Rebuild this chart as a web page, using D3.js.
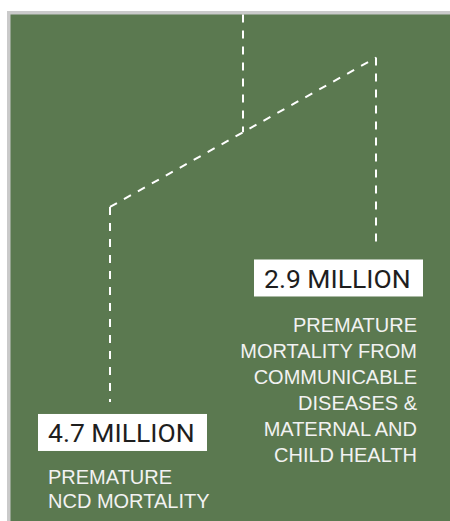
<!DOCTYPE html>
<html>
<head>
<meta charset="utf-8">
<script src="https://cdn.jsdelivr.net/npm/d3@7"></script>
<style>
  body { margin: 0; background: #fff; }
  svg text { font-family: Roboto, "Liberation Sans", sans-serif; }
  svg text.desc { font-family: "Liberation Sans", Arial, sans-serif; }
</style>
</head>
<body>
<div id="chart"></div>
<script>
const categories = ["ncd", "communicable"]
const values = [4.7, 2.9]
const valueLabels = ["4.7 MILLION", "2.9 MILLION"]
const descriptions = [
    ["PREMATURE", "NCD MORTALITY"],
    ["PREMATURE", "MORTALITY FROM", "COMMUNICABLE", "DISEASES &", "MATERNAL AND", "CHILD HEALTH"]
]
// branch height of each split (0 = top of the panel, 1 = bottom)
const branchLevels = [0.38, 0.085]
const stemLevels = [0.765, 0.46]

drawSplit("#chart")

function drawSplit(id){
    const canvas = createCanvas()
    const svg = d3.select(id).append("svg")
        .attr("width", canvas.width).attr("height", canvas.height)

    addPanel(svg, canvas)
    const sc = addScales(canvas)
    addLines(svg, sc)
    addLabels(svg, sc)
}

function createCanvas(){
    return { width: 450, height: 521, panel: { left: 7, top: 11, border: 3.5 } }
}

function addPanel(svg, canvas){
    svg.append("rect").attr("x", canvas.panel.left).attr("y", canvas.panel.top)
        .attr("width", canvas.width).attr("height", canvas.height).attr("fill", "#cacaca")
    svg.append("rect").attr("x", canvas.panel.left + canvas.panel.border)
        .attr("y", canvas.panel.top + canvas.panel.border)
        .attr("width", canvas.width).attr("height", canvas.height).attr("fill", "#5b7950")
}

function addScales(canvas){
    const xScale = d3.scalePoint().domain(categories).range([110, 376])
    const yScale = d3.scaleLinear().domain([0, 1]).range([canvas.panel.top + canvas.panel.border, canvas.height])
    return { xScale, yScale }
}

function addLines(svg, sc){
    const dash = g => g.attr("fill", "none").attr("stroke", "#fff")
        .attr("stroke-width", 2).attr("stroke-dasharray", "8 8")
    const pts = categories.map((c, i) => [sc.xScale(c), sc.yScale(branchLevels[i])])
    const mid = [(pts[0][0] + pts[1][0]) / 2, (pts[0][1] + pts[1][1]) / 2]

    // trunk
    svg.append("line").attr("x1", mid[0]).attr("x2", mid[0])
        .attr("y1", sc.yScale(0)).attr("y2", mid[1]).call(dash)
    // split
    svg.append("path").attr("d", d3.line()(pts)).call(dash)
    // stems
    categories.forEach((c, i) => {
        svg.append("line").attr("x1", sc.xScale(c)).attr("x2", sc.xScale(c))
            .attr("y1", pts[i][1]).attr("y2", sc.yScale(stemLevels[i])).call(dash)
    })
}

function addLabels(svg, sc){
    const layout = [
        { boxX: 38, anchor: "start", textX: 48, descY: 70, lineH: 24.5 },
        { boxX: 254, anchor: "end", textX: 417, descY: 73, lineH: 26 }
    ]
    categories.forEach((c, i) => {
        const lo = layout[i]
        const top = sc.yScale(stemLevels[i]) + 12
        svg.append("rect").attr("x", lo.boxX).attr("y", top)
            .attr("width", 169).attr("height", 37).attr("fill", "#fff")
        svg.append("text").attr("x", lo.boxX + 10).attr("y", top + 28.5)
            .attr("font-size", "26.5px").attr("fill", "#1e1e1e")
            .text(valueLabels[i])
        const t = svg.append("text").attr("class", "desc").attr("text-anchor", lo.anchor)
            .attr("font-size", "20px").attr("fill", "#f2f2f2")
        descriptions[i].forEach((line, k) => {
            t.append("tspan").attr("x", lo.textX).attr("y", top + lo.descY + k * lo.lineH).text(line)
        })
    })
}
</script>
</body>
</html>
